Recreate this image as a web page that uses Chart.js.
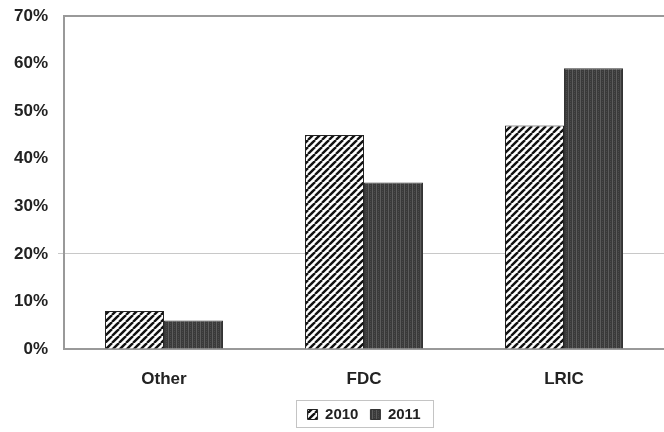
<!DOCTYPE html>
<html><head><meta charset="utf-8">
<script src="https://cdn.jsdelivr.net/npm/chart.js@4/dist/chart.umd.min.js"></script>
<style>html,body{margin:0;padding:0;background:#fff}#wrap{width:664px;height:432px}</style>
</head><body><div id="wrap"><canvas id="c" width="664" height="432"></canvas></div>
<script>
const categories = ["Other", "FDC", "LRIC"];
const series2010 = [8, 45, 47];
const series2011 = [6, 35, 59];
const seriesNames = ["2010", "2011"];

function hatchPattern() {
  const n = 7;
  const c = document.createElement('canvas'); c.width = n; c.height = n;
  const g = c.getContext('2d');
  g.fillStyle = '#fff'; g.fillRect(0, 0, n, n);
  g.strokeStyle = '#111'; g.lineWidth = 2.4;
  for (let k = -n; k <= 2 * n; k += n) { g.beginPath(); g.moveTo(k, n); g.lineTo(k + n, 0); g.stroke(); }
  return g.createPattern(c, 'repeat');
}
function darkPattern() {
  const c = document.createElement('canvas'); c.width = 4; c.height = 4;
  const g = c.getContext('2d');
  g.fillStyle = '#3a3a3a'; g.fillRect(0, 0, 4, 4);
  g.fillStyle = '#5c5c5c'; g.fillRect(0, 0, 1, 4);
  g.fillStyle = '#4a4a4a'; g.fillRect(2, 1, 1, 1); g.fillRect(2, 3, 1, 1);
  return g.createPattern(c, 'repeat');
}

const legendBox = {
  id: 'legendBox',
  beforeDraw(chart) {
    const l = chart.legend; if (!l) return;
    l.left = chart.chartArea.left; l.right = chart.chartArea.right; l.width = l.right - l.left;
  },
  afterDraw(chart) {
    const l = chart.legend; if (!l) return;
    const cx = Math.round((chart.chartArea.left + chart.chartArea.right) / 2);
    const cy = l.top + l.height / 2;
    const x0 = cx - 68, w = 137;
    const y0 = Math.round(cy - 13.5);
    const ctx = chart.ctx;
    ctx.save(); ctx.strokeStyle = '#c4c4c4'; ctx.lineWidth = 1;
    ctx.strokeRect(x0 + 0.5, y0 + 0.5, w, 27);
    ctx.restore();
  }
};

Chart.defaults.font.family = '"Liberation Sans", Arial, sans-serif';
new Chart(document.getElementById('c'), {
  type: 'bar',
  data: {
    labels: categories,
    datasets: [
      { label: seriesNames[0], data: series2010, backgroundColor: hatchPattern(), borderColor: '#222', borderWidth: 1 },
      { label: seriesNames[1], data: series2011, backgroundColor: darkPattern(), borderColor: '#333', borderWidth: 1 }
    ]
  },
  options: {
    responsive: false, animation: false,
    layout: { padding: { left: 4, right: 0, top: 16, bottom: 0 } },
    datasets: { bar: { categoryPercentage: 0.59, barPercentage: 1.0 } },
    plugins: {
      tooltip: { enabled: false },
      legend: {
        position: 'bottom',
        labels: { boxWidth: 10, boxHeight: 10, padding: 12, color: '#222', font: { size: 15, weight: 'bold' } }
      }
    },
    scales: {
      x: {
        grid: { display: false },
        border: { color: '#999', width: 2 },
        ticks: { color: '#222', font: { size: 17, weight: 'bold' }, padding: 12 },
        afterFit: (s) => { s.height = 46; }
      },
      y: {
        min: 0, max: 70,
        border: { color: '#999', width: 2 },
        grid: {
          color: (c) => c.tick && c.tick.value === 20 ? '#c8c8c8' : (c.tick && c.tick.value === 70 ? '#999' : 'rgba(0,0,0,0)'),
          lineWidth: (c) => c.tick && c.tick.value === 70 ? 2 : 1,
          tickLength: 6,
          tickColor: (c) => c.tick && c.tick.value === 20 ? '#c8c8c8' : 'rgba(0,0,0,0)'
        },
        ticks: { stepSize: 10, color: '#222', font: { size: 17, weight: 'bold' }, padding: 10, callback: (v) => v + '%' },
        afterFit: (s) => { s.paddingTop = 0; s.paddingBottom = 0; }
      }
    }
  },
  plugins: [legendBox]
});
</script>
</body></html>
